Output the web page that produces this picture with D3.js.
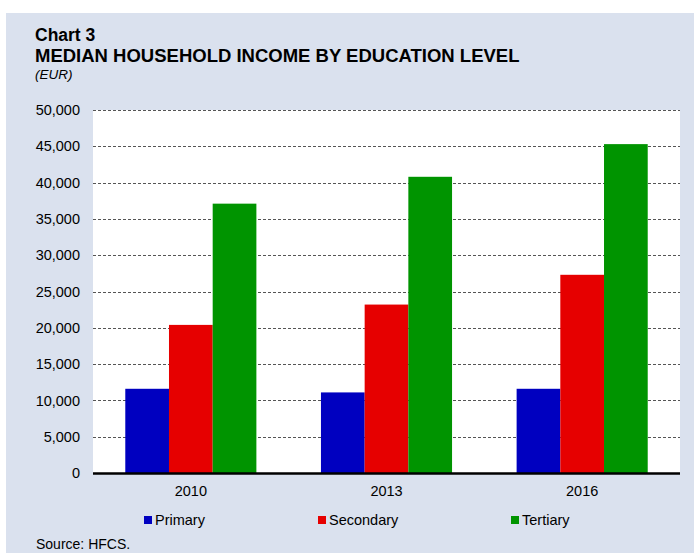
<!DOCTYPE html>
<html><head><meta charset="utf-8">
<script src="https://cdn.jsdelivr.net/npm/d3@7"></script>
<style>body{margin:0;background:#fff;}svg{display:block;font-family:"Liberation Sans",Arial,sans-serif;}</style>
</head><body>
<script>
const categories = ["2010", "2013", "2016"];
const seriesNames = ["Primary", "Secondary", "Tertiary"];
const primary = [11600, 11100, 11600];
const secondary = [20400, 23200, 27300];
const tertiary = [37100, 40800, 45300];
const yTicks = [0, 5000, 10000, 15000, 20000, 25000, 30000, 35000, 40000, 45000, 50000];
const colors = ["#0000c0", "#e60000", "#009400"];

(function () {
const W = 694, H = 553;
const svg = d3.select("body").append("svg").attr("width", W).attr("height", H);
svg.append("rect").attr("x", 6).attr("y", 13).attr("width", W - 6).attr("height", H - 13).attr("fill", "#dae1ee");

const pLeft = 93, pRight = 680, pTop = 110, pBottom = 473;
svg.append("rect").attr("x", pLeft).attr("y", pTop).attr("width", pRight - pLeft).attr("height", pBottom - pTop).attr("fill", "#fff");

const y = d3.scaleLinear().domain([0, 50000]).range([pBottom, pTop]);
const x0 = d3.scaleBand().domain(categories).range([pLeft, pRight]).paddingInner(0.33).paddingOuter(0.165);
const x1 = d3.scaleBand().domain(seriesNames).range([0, x0.bandwidth()]);

// grid
svg.append("g").selectAll("line").data(yTicks.filter(d => d > 0)).join("line")
  .attr("x1", pLeft).attr("x2", pRight).attr("y1", d => Math.round(y(d)) + 0.5).attr("y2", d => Math.round(y(d)) + 0.5)
  .attr("stroke", "#555").attr("stroke-width", 1).attr("stroke-dasharray", "3,2");

// y labels
const yAxis = d3.axisLeft(y).tickValues(yTicks).tickSize(0).tickPadding(13).tickFormat(d3.format(","));
const ya = svg.append("g").attr("transform", `translate(${pLeft},0)`).call(yAxis);
ya.select(".domain").remove();
ya.selectAll("text").attr("font-size", 14.5).attr("fill", "#000").attr("font-family", "Liberation Sans, Arial, sans-serif");

const data = [primary, secondary, tertiary];
const g = svg.append("g");
categories.forEach((c, i) => {
  seriesNames.forEach((s, j) => {
    g.append("rect")
      .attr("x", x0(c) + x1(s)).attr("width", x1.bandwidth())
      .attr("y", y(data[j][i])).attr("height", y(0) - y(data[j][i]))
      .attr("fill", colors[j]);
  });
});

// x axis
const xAxis = d3.axisBottom(x0).tickSize(0).tickPadding(13);
const xa = svg.append("g").attr("transform", `translate(0,${pBottom})`).call(xAxis);
xa.select(".domain").remove();
xa.selectAll("text").attr("font-size", 14.5).attr("fill", "#000").attr("font-family", "Liberation Sans, Arial, sans-serif");
svg.append("line").attr("x1", pLeft).attr("x2", pRight).attr("y1", pBottom + 0.5).attr("y2", pBottom + 0.5).attr("stroke", "#000").attr("stroke-width", 2.5);

// legend
const legX = [144, 318, 511];
seriesNames.forEach((s, j) => {
  svg.append("rect").attr("x", legX[j]).attr("y", 516).attr("width", 8).attr("height", 8).attr("fill", colors[j]);
  svg.append("text").attr("x", legX[j] + 11).attr("y", 525).attr("font-size", 14.5).attr("fill", "#000").text(s);
});

// titles
svg.append("text").attr("x", 35).attr("y", 40.5).attr("font-size", 17.5).attr("font-weight", "bold").attr("fill", "#000").text("Chart 3");
svg.append("text").attr("x", 35).attr("y", 61.5).attr("font-size", 18.5).attr("font-weight", "bold").attr("fill", "#000").text("MEDIAN HOUSEHOLD INCOME BY EDUCATION LEVEL");
svg.append("text").attr("x", 35).attr("y", 78.5).attr("font-size", 13.5).attr("font-style", "italic").attr("fill", "#000").text("(EUR)");
svg.append("text").attr("x", 36).attr("y", 549).attr("font-size", 14).attr("fill", "#000").text("Source: HFCS.");
})();
</script>
</body></html>
